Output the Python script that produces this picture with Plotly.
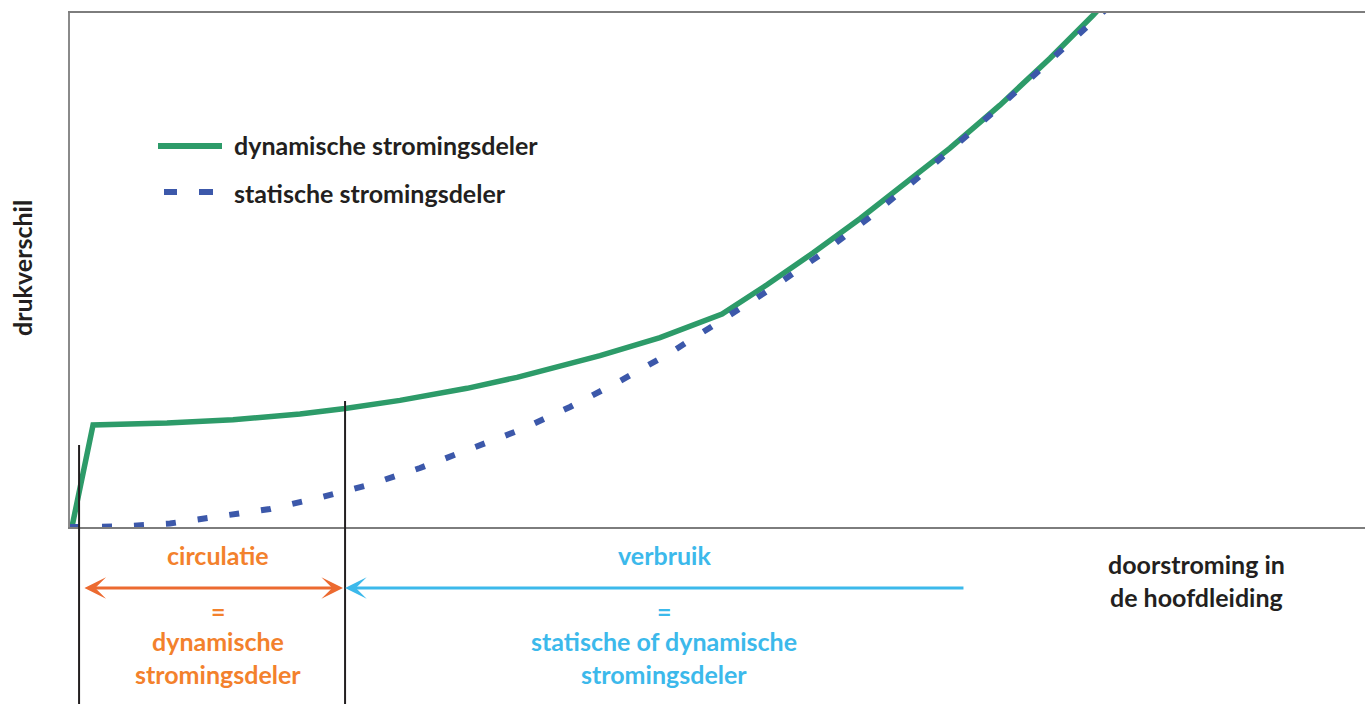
import plotly.graph_objects as go

# ---- data (arbitrary units: flow 0-100, pressure difference 0-100) ----
dyn_x = [0.15, 1.78, 7.49, 12.59, 17.76, 21.24, 25.48, 30.66, 34.52, 40.93, 45.56,
         50.35, 53.82, 57.37, 61.00, 64.86, 67.95, 71.81, 75.68, 79.00, 80.31]
dyn_y = [0.0, 19.84, 20.23, 20.88, 21.98, 23.04, 24.63, 26.98, 29.12, 33.33, 36.83,
         41.44, 47.13, 53.31, 59.98, 67.47, 73.70, 82.06, 91.21, 99.57, 103.05]

stat_x = [0.0, 1.54, 3.86, 7.72, 11.58, 15.44, 19.31, 23.17, 27.03, 30.89, 34.75,
          38.61, 42.47, 46.33, 50.19, 54.05, 57.92, 61.78, 65.64, 69.50, 73.36,
          77.22, 79.69, 80.69]
stat_y = [0.0, 0.0, 0.10, 0.68, 1.95, 3.50, 5.74, 8.27, 11.48, 15.08, 18.87,
          23.35, 28.40, 33.85, 39.88, 46.21, 52.92, 60.31, 68.29, 76.65, 85.41,
          94.26, 100.10, 102.3]

series_names = ["dynamische stromingsdeler", "statische stromingsdeler"]
circ_start, circ_end = 1.0, 21.08        # circulation range
verbruik_end = 69.11                     # consumption arrow tail
marker_x = [0.7, 21.24]                  # vertical marker lines

GREEN = "#2d9b69"
BLUE = "#3c58aa"
ORANGE_ARROW = "#ec6a30"
ORANGE_TEXT = "#f3812c"
CYAN = "#3cb9eb"
DARK = "#231f20"
FONT = "Lato"
FS = 25

W, H = 1365, 704
ML, MR, MT, MB = 70, 0, 13, 177
PW, PH = W - ML - MR, H - MT - MB


def px(xp):
    return (xp - ML) / PW


def py(yp):
    return (H - MB - yp) / PH


fig = go.Figure()
fig.add_trace(go.Scatter(x=dyn_x, y=dyn_y, mode="lines", name=series_names[0],
                         line=dict(color=GREEN, width=5.5), showlegend=False))
fig.add_trace(go.Scatter(x=stat_x, y=stat_y, mode="lines", name=series_names[1],
                         line=dict(color=BLUE, width=6, dash="10px,22px"),
                         showlegend=False))

shapes = []
# vertical marker lines
shapes.append(dict(type="line", xref="x", yref="paper", x0=marker_x[0], x1=marker_x[0],
                   y0=py(445), y1=py(706), line=dict(color=DARK, width=2)))
shapes.append(dict(type="line", xref="x", yref="paper", x0=marker_x[1], x1=marker_x[1],
                   y0=py(401), y1=py(706), line=dict(color=DARK, width=2)))
# legend symbols
shapes.append(dict(type="line", xref="paper", yref="paper", x0=px(158), x1=px(222),
                   y0=py(146), y1=py(146), line=dict(color=GREEN, width=6)))
for a, b in [(164, 177), (199, 213)]:
    shapes.append(dict(type="line", xref="paper", yref="paper", x0=px(a), x1=px(b),
                       y0=py(192), y1=py(192), line=dict(color=BLUE, width=6)))

ann = []


def text(xp, yp, s, color, size=FS, xanchor="center"):
    ann.append(dict(xref="paper", yref="paper", x=px(xp), y=py(yp), text="<b>" + s + "</b>",
                    showarrow=False, xanchor=xanchor, yanchor="middle",
                    font=dict(family=FONT, size=size, color=color)))


text(232, 145, series_names[0], DARK, xanchor="left")
text(232, 193, series_names[1], DARK, xanchor="left")

text(218, 555, "circulatie", ORANGE_TEXT)
text(218, 611, "=", ORANGE_TEXT)
text(218, 641, "dynamische", ORANGE_TEXT)
text(218, 674, "stromingsdeler", ORANGE_TEXT)

text(664, 555, "verbruik", CYAN)
text(664, 611, "=", CYAN)
text(664, 641, "statische of dynamische", CYAN)
text(664, 674, "stromingsdeler", CYAN)

text(1196, 564, "doorstroming in", DARK)
text(1196, 597, "de hoofdleiding", DARK)

# y-axis title
ann.append(dict(xref="paper", yref="paper", x=px(22), y=py(268), text="<b>drukverschil</b>",
                showarrow=False, textangle=-90, xanchor="center", yanchor="middle",
                font=dict(family=FONT, size=FS, color=DARK)))

# arrows
ann.append(dict(xref="x", yref="paper", x=circ_end, y=py(588), axref="x", ayref="pixel",
                ax=circ_start, ay=0, text="", showarrow=True, arrowhead=3, startarrowhead=3,
                arrowside="end+start", arrowsize=1.2, startarrowsize=1.2, arrowwidth=3,
                arrowcolor=ORANGE_ARROW, standoff=0, startstandoff=0))
ann.append(dict(xref="x", yref="paper", x=marker_x[1], y=py(588), axref="x", ayref="pixel",
                ax=verbruik_end, ay=0, text="", showarrow=True, arrowhead=3,
                arrowsize=1.2, arrowwidth=3, arrowcolor=CYAN, standoff=0))

fig.update_layout(
    width=W, height=H,
    margin=dict(l=ML, r=MR, t=MT, b=MB),
    paper_bgcolor="white", plot_bgcolor="white",
    shapes=shapes, annotations=ann,
    xaxis=dict(range=[0, 100], showgrid=False, zeroline=False, showticklabels=False,
               ticks="", showline=True, linecolor="#7d7d7d", linewidth=2, mirror=True),
    yaxis=dict(range=[0, 100], showgrid=False, zeroline=False, showticklabels=False,
               ticks="", showline=True, linecolor="#8a8a8a", linewidth=2, mirror=False),
)

fig.write_html("out.html", config={"displayModeBar": False},
               post_script="document.body.style.margin='0px';document.body.style.overflow='hidden';")
